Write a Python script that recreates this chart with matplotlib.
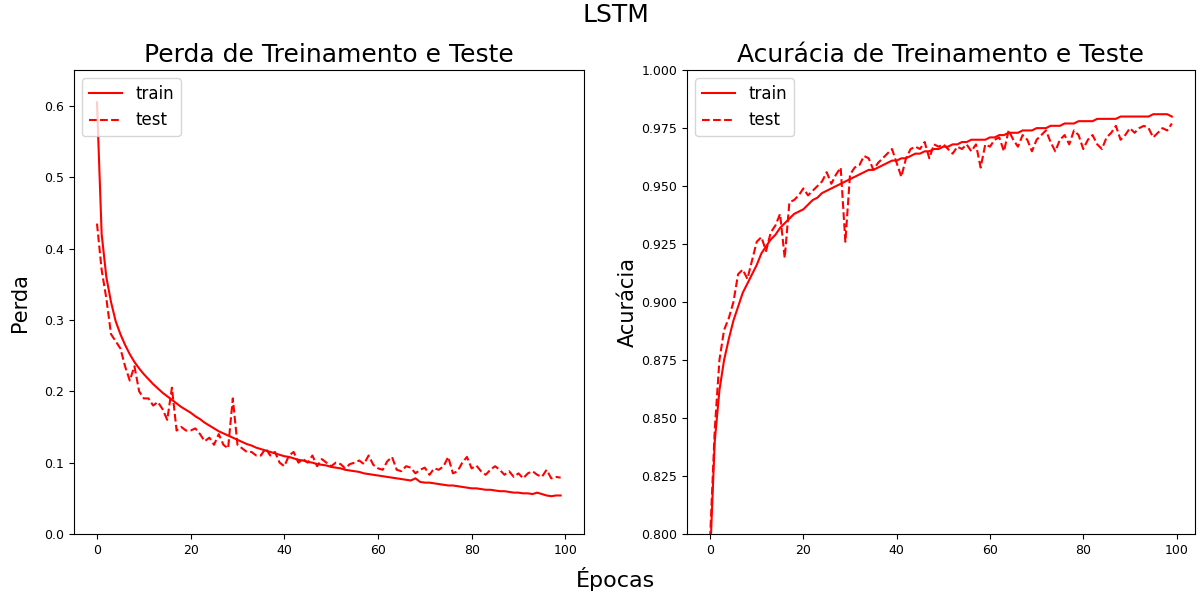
import numpy as np
import matplotlib
matplotlib.use('Agg')
import matplotlib.pyplot as plt

epochs = np.arange(100)

train_loss = [0.605, 0.42, 0.36, 0.325, 0.298, 0.28, 0.265, 0.252, 0.241, 0.232,
              0.224, 0.217, 0.210, 0.204, 0.198, 0.193, 0.188, 0.183, 0.178, 0.174,
              0.170, 0.165, 0.161, 0.156, 0.152, 0.148, 0.144, 0.141, 0.138, 0.135,
              0.132, 0.129, 0.126, 0.124, 0.121, 0.119, 0.117, 0.115, 0.113, 0.111,
              0.109, 0.108, 0.106, 0.104, 0.103, 0.101, 0.100, 0.098, 0.097, 0.096,
              0.094, 0.093, 0.092, 0.090, 0.089, 0.088, 0.087, 0.085, 0.084, 0.083,
              0.082, 0.081, 0.080, 0.079, 0.078, 0.077, 0.076, 0.075, 0.078, 0.073,
              0.072, 0.072, 0.071, 0.070, 0.069, 0.068, 0.068, 0.067, 0.066, 0.065,
              0.064, 0.064, 0.063, 0.062, 0.062, 0.061, 0.060, 0.060, 0.059, 0.058,
              0.058, 0.057, 0.057, 0.056, 0.058, 0.056, 0.054, 0.053, 0.054, 0.054]

test_loss = [0.435, 0.37, 0.33, 0.28, 0.27, 0.26, 0.235, 0.215, 0.235, 0.20,
             0.19, 0.19, 0.18, 0.185, 0.175, 0.16, 0.205, 0.145, 0.15, 0.145,
             0.145, 0.148, 0.14, 0.13, 0.135, 0.125, 0.14, 0.125, 0.12, 0.19,
             0.125, 0.12, 0.115, 0.115, 0.11, 0.11, 0.12, 0.11, 0.115, 0.10,
             0.095, 0.11, 0.115, 0.10, 0.105, 0.10, 0.11, 0.095, 0.105, 0.10,
             0.095, 0.10, 0.098, 0.092, 0.098, 0.10, 0.103, 0.098, 0.11, 0.097,
             0.092, 0.09, 0.102, 0.108, 0.09, 0.088, 0.095, 0.093, 0.085, 0.09,
             0.093, 0.083, 0.092, 0.09, 0.095, 0.108, 0.085, 0.088, 0.10, 0.108,
             0.092, 0.096, 0.088, 0.083, 0.09, 0.095, 0.09, 0.083, 0.088, 0.08,
             0.085, 0.078, 0.085, 0.088, 0.083, 0.08, 0.09, 0.078, 0.08, 0.079]

train_acc = [0.790, 0.840, 0.862, 0.875, 0.884, 0.892, 0.898, 0.904, 0.908, 0.912,
             0.916, 0.921, 0.924, 0.927, 0.929, 0.932, 0.934, 0.936, 0.938, 0.939,
             0.940, 0.942, 0.944, 0.945, 0.947, 0.948, 0.949, 0.950, 0.951, 0.952,
             0.953, 0.954, 0.955, 0.956, 0.957, 0.957, 0.958, 0.959, 0.960, 0.961,
             0.961, 0.962, 0.962, 0.963, 0.964, 0.964, 0.965, 0.965, 0.966, 0.966,
             0.967, 0.967, 0.968, 0.968, 0.969, 0.969, 0.970, 0.970, 0.970, 0.970,
             0.971, 0.971, 0.972, 0.972, 0.973, 0.973, 0.973, 0.974, 0.974, 0.974,
             0.975, 0.975, 0.975, 0.976, 0.976, 0.976, 0.977, 0.977, 0.977, 0.978,
             0.978, 0.978, 0.978, 0.979, 0.979, 0.979, 0.979, 0.979, 0.980, 0.980,
             0.980, 0.980, 0.980, 0.980, 0.980, 0.981, 0.981, 0.981, 0.981, 0.980]

test_acc = [0.798, 0.845, 0.875, 0.888, 0.893, 0.900, 0.912, 0.914, 0.910, 0.918,
            0.926, 0.928, 0.922, 0.930, 0.933, 0.938, 0.919, 0.943, 0.944, 0.946,
            0.949, 0.946, 0.948, 0.950, 0.952, 0.956, 0.951, 0.955, 0.958, 0.926,
            0.955, 0.958, 0.959, 0.963, 0.962, 0.957, 0.960, 0.962, 0.964, 0.966,
            0.960, 0.954, 0.962, 0.966, 0.967, 0.966, 0.969, 0.962, 0.968, 0.967,
            0.968, 0.966, 0.964, 0.967, 0.966, 0.968, 0.965, 0.968, 0.958, 0.968,
            0.967, 0.970, 0.971, 0.965, 0.974, 0.970, 0.967, 0.972, 0.970, 0.965,
            0.970, 0.972, 0.974, 0.969, 0.965, 0.970, 0.972, 0.968, 0.974, 0.972,
            0.966, 0.970, 0.972, 0.968, 0.966, 0.971, 0.973, 0.976, 0.970, 0.972,
            0.975, 0.973, 0.975, 0.976, 0.975, 0.971, 0.973, 0.975, 0.974, 0.977]

fig = plt.figure(figsize=(12, 5.97), dpi=100)
ax1 = fig.add_axes([0.0615, 0.1055, 0.425, 0.777])
ax2 = fig.add_axes([0.5725, 0.1055, 0.4233, 0.777])

ax1.plot(epochs, train_loss, 'r-', label='train')
ax1.plot(epochs, test_loss, 'r--', label='test')
ax1.set_title('Perda de Treinamento e Teste', fontsize=18)
ax1.set_ylabel('Perda', fontsize=15)
ax1.yaxis.set_label_coords(-0.086, 0.5)
ax1.set_ylim(0, 0.65)
ax1.legend(loc='upper left', fontsize=12)
ax1.tick_params(labelsize=9)

ax2.plot(epochs, train_acc, 'r-', label='train')
ax2.plot(epochs, test_acc, 'r--', label='test')
ax2.set_title('Acurácia de Treinamento e Teste', fontsize=18)
ax2.set_ylabel('Acurácia', fontsize=15)
ax2.yaxis.set_label_coords(-0.096, 0.5)
ax2.set_ylim(0.8, 1.0)
ax2.legend(loc='upper left', fontsize=12)
ax2.tick_params(labelsize=9)

fig.suptitle('LSTM', fontsize=18, x=0.513, y=0.995)
fig.text(0.513, 0.01, 'Épocas', ha='center', va='bottom', fontsize=16)

fig.savefig('out.png', dpi=100)
